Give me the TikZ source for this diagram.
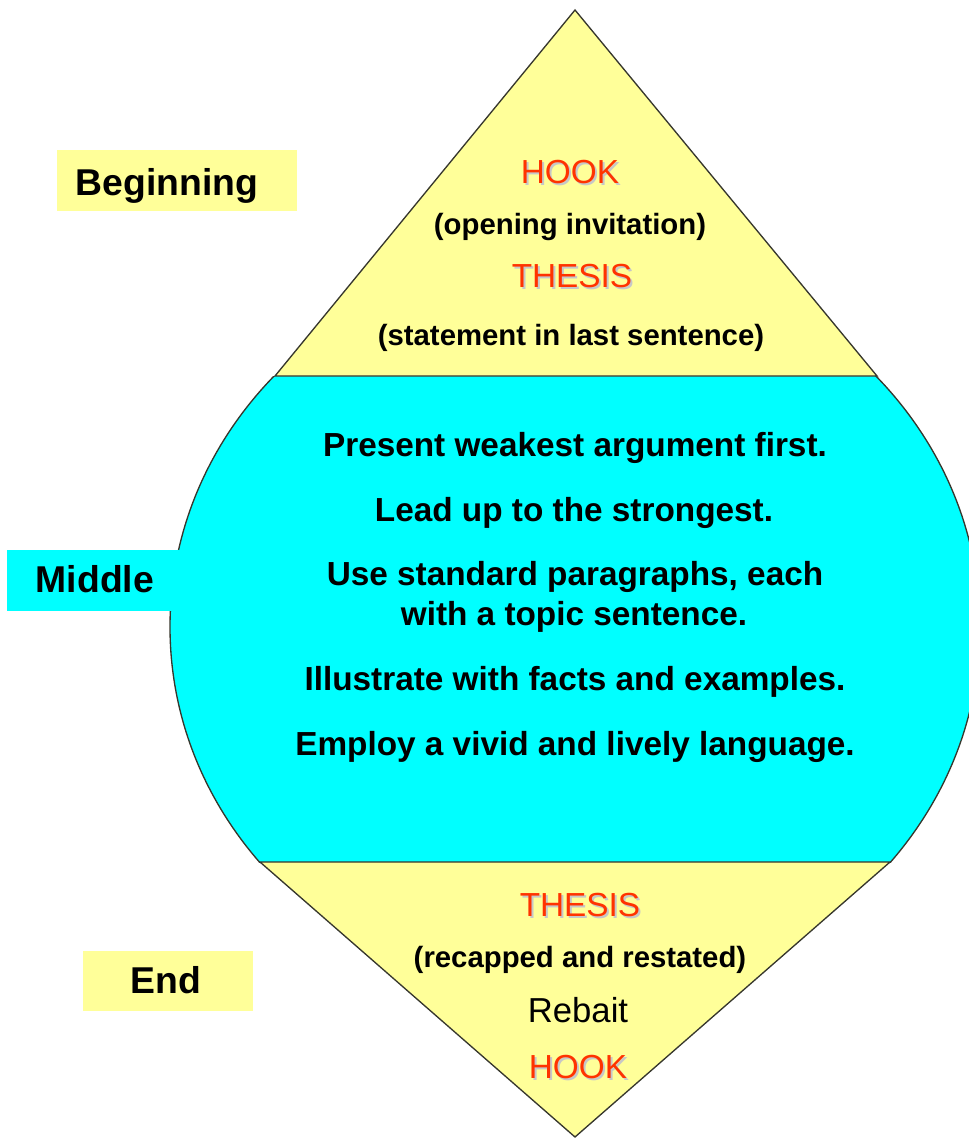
\documentclass[tikz,border=0pt]{standalone}
\usepackage{fontspec}
\setmainfont{Liberation Sans}
\usetikzlibrary{calc}
\definecolor{PaleYellow}{RGB}{255,255,153}
\definecolor{BrightCyan}{RGB}{0,255,255}
\definecolor{HookRed}{RGB}{255,51,0}
\definecolor{EdgeGray}{RGB}{55,55,45}
\newcommand{\redword}[4]{%
  \node[keyword,text=black!22] (#1s) at (#2+2,#3+2) {#4};
  \node[keyword] (#1) at (#2,#3) {#4};}

\begin{document}
\begin{tikzpicture}[x=0.75pt,y=-0.75pt,
  edge/.style={draw=EdgeGray,line width=1pt},
  keyword/.style={anchor=base,text=HookRed,inner sep=0pt,font=\fontsize{25}{30}\selectfont},
  note/.style={anchor=base,inner sep=0pt,font=\bfseries\fontsize{22}{26}\selectfont},
  body/.style={anchor=base,inner sep=0pt,font=\bfseries\fontsize{25}{30}\selectfont},
  part/.style={anchor=base,inner sep=0pt,font=\bfseries\fontsize{28}{32}\selectfont}]
  \useasboundingbox (0,0) rectangle (969,1138);
  % middle body, cut from an ellipse
  \begin{scope}
    \clip (0,376) rectangle (1000,862);
    \filldraw[fill=BrightCyan,edge] (575,627) ellipse [x radius=405,y radius=375];
  \end{scope}
  % beginning and end triangles
  \filldraw[fill=PaleYellow,edge] (575,10) -- (877,376) -- (275,376) -- cycle;
  \filldraw[fill=PaleYellow,edge] (260,862) -- (890,862) -- (575,1137) -- cycle;
  % side labels
  \fill[PaleYellow] (57,150) rectangle (297,211);
  \node[part] (beginning) at (167,195) {Beginning};
  \fill[BrightCyan] (7,550) rectangle (186,611);
  \node[part] (middle) at (95,592) {Middle};
  \fill[PaleYellow] (83,951) rectangle (253,1011);
  \node[part] (end) at (166,993) {End};
  % beginning
  \redword{hooktop}{570}{183}{HOOK}
  \node[note] (invite) at (570,234) {(opening invitation)};
  \redword{thesistop}{572}{287}{THESIS}
  \node[note] (statement) at (571,345) {(statement in last sentence)};
  % middle
  \node[body] (weakest) at (575,456) {Present weakest argument first.};
  \node[body] (strongest) at (574,521) {Lead up to the strongest.};
  \node[body] (standard) at (575,585) {Use standard paragraphs, each};
  \node[body] (topic) at (574,625) {with a topic sentence.};
  \node[body] (facts) at (575,690) {Illustrate with facts and examples.};
  \node[body] (vivid) at (575,755) {Employ a vivid and lively language.};
  % end
  \redword{thesisbot}{580}{916}{THESIS}
  \node[note] (recap) at (580,967) {(recapped and restated)};
  \node[keyword,text=black,font=\fontsize{26}{30}\selectfont] (rebait) at (578,1022) {Rebait};
  \redword{hookbot}{578}{1078}{HOOK}
\end{tikzpicture}
\end{document}
